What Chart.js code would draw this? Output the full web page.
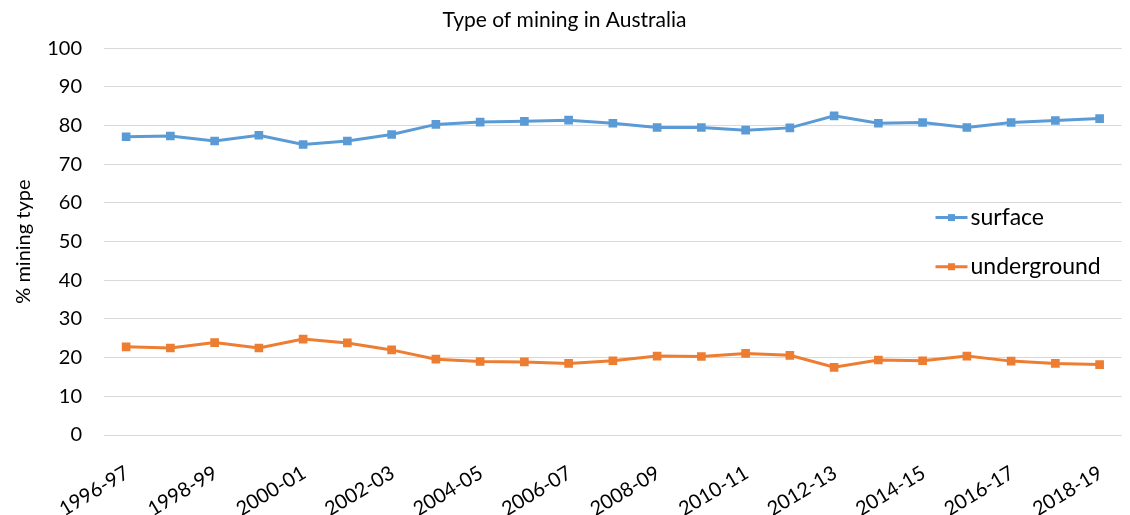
<!DOCTYPE html>
<html>
<head>
<meta charset="utf-8">
<script src="https://cdn.jsdelivr.net/npm/chart.js@4/dist/chart.umd.min.js"></script>
<style>
  html, body { margin: 0; padding: 0; background: #fff; }
  #wrap { width: 1130px; height: 515px; }
</style>
</head>
<body>
<div id="wrap"><canvas id="c" width="1130" height="515"></canvas></div>
<script>
const years = ['1996-97', '1997-98', '1998-99', '1999-00', '2000-01', '2001-02', '2002-03', '2003-04',
  '2004-05', '2005-06', '2006-07', '2007-08', '2008-09', '2009-10', '2010-11', '2011-12',
  '2012-13', '2013-14', '2014-15', '2015-16', '2016-17', '2017-18', '2018-19'];
const surface = [77.1, 77.3, 76.0, 77.5, 75.1, 76.0, 77.7, 80.3, 80.9, 81.1, 81.4, 80.6,
  79.5, 79.5, 78.8, 79.4, 82.5, 80.6, 80.8, 79.5, 80.8, 81.3, 81.8];
const underground = [22.8, 22.5, 23.9, 22.5, 24.8, 23.8, 22.0, 19.6, 19.0, 18.9, 18.5, 19.2,
  20.4, 20.3, 21.1, 20.6, 17.5, 19.4, 19.2, 20.4, 19.1, 18.5, 18.2];

const FONT = 'Lato, "Open Sans", sans-serif';
const BLUE = '#5b9bd5';
const ORANGE = '#ed7d31';

// legend sits inside the plot, right side, like the original
const insideLegend = {
  id: 'insideLegend',
  afterDraw(chart) {
    const ctx = chart.ctx;
    const area = chart.chartArea;
    const x0 = area.left + (area.right - area.left) * 0.817;
    const ys = [chart.scales.y.getPixelForValue(56.2), chart.scales.y.getPixelForValue(43.5)];
    ctx.save();
    chart.data.datasets.forEach((ds, i) => {
      const y = ys[i];
      ctx.strokeStyle = ds.borderColor;
      ctx.lineWidth = 3;
      ctx.beginPath();
      ctx.moveTo(x0, y);
      ctx.lineTo(x0 + 32, y);
      ctx.stroke();
      ctx.fillStyle = ds.borderColor;
      ctx.fillRect(x0 + 16 - 3.5, y - 3.5, 7, 7);
      ctx.fillStyle = '#000';
      ctx.font = '23px ' + FONT;
      ctx.textBaseline = 'middle';
      ctx.textAlign = 'left';
      ctx.fillText(ds.label, x0 + 35, y);
    });
    ctx.restore();
  }
};

new Chart(document.getElementById('c'), {
  type: 'line',
  data: {
    labels: years,
    datasets: [
      {
        label: 'surface',
        data: surface,
        borderColor: BLUE,
        backgroundColor: BLUE,
        borderWidth: 3,
        pointStyle: 'rect',
        pointRadius: 4,
        pointHoverRadius: 4,
        tension: 0
      },
      {
        label: 'underground',
        data: underground,
        borderColor: ORANGE,
        backgroundColor: ORANGE,
        borderWidth: 3,
        pointStyle: 'rect',
        pointRadius: 4,
        pointHoverRadius: 4,
        tension: 0
      }
    ]
  },
  options: {
    responsive: false,
    animation: false,
    layout: { autoPadding: false, padding: { left: 0, right: 1, top: 0, bottom: 0 } },
    plugins: {
      legend: { display: false },
      tooltip: { enabled: false },
      title: {
        display: true,
        text: 'Type of mining in Australia',
        color: '#000',
        font: { family: FONT, size: 21, weight: 'normal' },
        padding: { top: 8, bottom: 15 }
      }
    },
    scales: {
      x: {
        offset: true,
        grid: { display: false },
        border: { display: false },
        ticks: {
          autoSkip: false,
          maxRotation: 31,
          minRotation: 31,
          padding: 18,
          labelOffset: 1,
          color: '#000',
          font: { family: FONT, size: 20 },
          callback: function (v, i) { return i % 2 === 0 ? this.getLabelForValue(v) : ''; }
        },
        afterFit(scale) { scale.height = 80; }
      },
      y: {
        min: 0,
        max: 100,
        grid: { color: '#d9d9d9', lineWidth: 1, drawTicks: false },
        border: { display: false },
        ticks: {
          stepSize: 10,
          padding: 22,
          color: '#000',
          font: { family: FONT, size: 20 }
        },
        title: {
          display: true,
          text: '% mining type',
          color: '#000',
          font: { family: FONT, size: 20 },
          padding: { top: 12, bottom: 0 }
        },
        afterFit(scale) { scale.width = 104; }
      }
    }
  },
  plugins: [insideLegend]
});
</script>
</body>
</html>
